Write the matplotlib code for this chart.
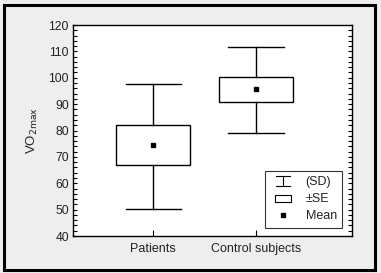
import matplotlib
matplotlib.use("Agg")
import matplotlib.pyplot as plt
from matplotlib.patches import Rectangle
from matplotlib.lines import Line2D
from matplotlib.legend_handler import HandlerBase
from matplotlib.ticker import MultipleLocator

groups = ["Patients", "Control subjects"]
means = [74.5, 95.6]
se_low = [66.9, 90.7]
se_high = [82.0, 100.4]
sd_low = [50.3, 79.1]
sd_high = [97.6, 111.7]

plt.rcParams["font.family"] = ["Liberation Sans", "DejaVu Sans"]
plt.rcParams["font.size"] = 9

bg = "#eeeeee"
txt = "#222222"

fig = plt.figure(figsize=(3.81, 2.73), dpi=100, facecolor=bg)
ax = fig.add_axes([0.1916, 0.1355, 0.924 - 0.1916, 0.9084 - 0.1355])
ax.set_facecolor("white")

box_w = 0.72
cap_w = 0.54
for i in range(len(groups)):
    ax.plot([i, i], [sd_low[i], se_low[i]], color="black", lw=1)
    ax.plot([i, i], [se_high[i], sd_high[i]], color="black", lw=1)
    ax.plot([i - cap_w / 2, i + cap_w / 2], [sd_low[i]] * 2, color="black", lw=1)
    ax.plot([i - cap_w / 2, i + cap_w / 2], [sd_high[i]] * 2, color="black", lw=1)
    ax.add_patch(Rectangle((i - box_w / 2, se_low[i]), box_w, se_high[i] - se_low[i],
                           facecolor="white", edgecolor="black", lw=1))
    ax.plot(i, means[i], marker="s", color="black", ms=3.5, ls="none")

ax.set_xlim(-0.78, 1.93)
ax.set_ylim(40, 120)
ax.set_xticks(range(len(groups)))
ax.set_xticklabels(groups, color=txt, fontsize=9)
ax.yaxis.set_major_locator(MultipleLocator(10))
ax.yaxis.set_minor_locator(MultipleLocator(2))
ax.tick_params(axis="y", which="both", direction="in", right=True, length=3, width=0.8,
               labelcolor=txt, labelsize=8.7, pad=3)
ax.tick_params(axis="x", direction="in", length=4, width=0.8, labelcolor=txt, pad=5)
for s in ax.spines.values():
    s.set_linewidth(1)
ax.set_ylabel("VO$_{2\\mathrm{max}}$", color=txt, fontsize=9.5, labelpad=6)


class SDHandler(HandlerBase):
    def create_artists(self, legend, orig, xd, yd, w, h, fs, trans):
        cx = xd + w / 2
        l1 = Line2D([cx - 5, cx + 5], [yd + h + 0.5, yd + h + 0.5], color="black", lw=0.8, transform=trans)
        l2 = Line2D([cx - 5, cx + 5], [yd - 0.5, yd - 0.5], color="black", lw=0.8, transform=trans)
        l3 = Line2D([cx, cx], [yd - 0.5, yd + h + 0.5], color="black", lw=0.8, transform=trans)
        return [l1, l2, l3]


class BoxHandler(HandlerBase):
    def create_artists(self, legend, orig, xd, yd, w, h, fs, trans):
        cx = xd + w / 2
        r = Rectangle((cx - 6, yd + 0.5), 12, h - 1.5, facecolor="white", edgecolor="black", lw=0.8,
                      transform=trans)
        return [r]


h_sd = Line2D([], [])
h_se = Rectangle((0, 0), 1, 1)
h_mean = Line2D([], [], marker="s", color="black", ms=3.5, ls="none")
leg = ax.legend([h_sd, h_se, h_mean], ["(SD)", "\u00b1SE", "Mean"],
                handler_map={h_sd: SDHandler(), h_se: BoxHandler()},
                loc="lower right", bbox_to_anchor=(0.988, 0.008), frameon=True, fancybox=False,
                edgecolor="black", handlelength=2.0, handletextpad=0.8, labelspacing=0.4,
                borderpad=0.45, fontsize=9)
leg.get_frame().set_linewidth(0.8)
for t in leg.get_texts():
    t.set_color(txt)

fig.patches.append(Rectangle((0.0118, 0.0128), 0.983 - 0.0118, 0.9835 - 0.0128,
                             transform=fig.transFigure, fill=False, edgecolor="black", lw=2.2))

fig.savefig("out.png", dpi=100, facecolor=bg)
